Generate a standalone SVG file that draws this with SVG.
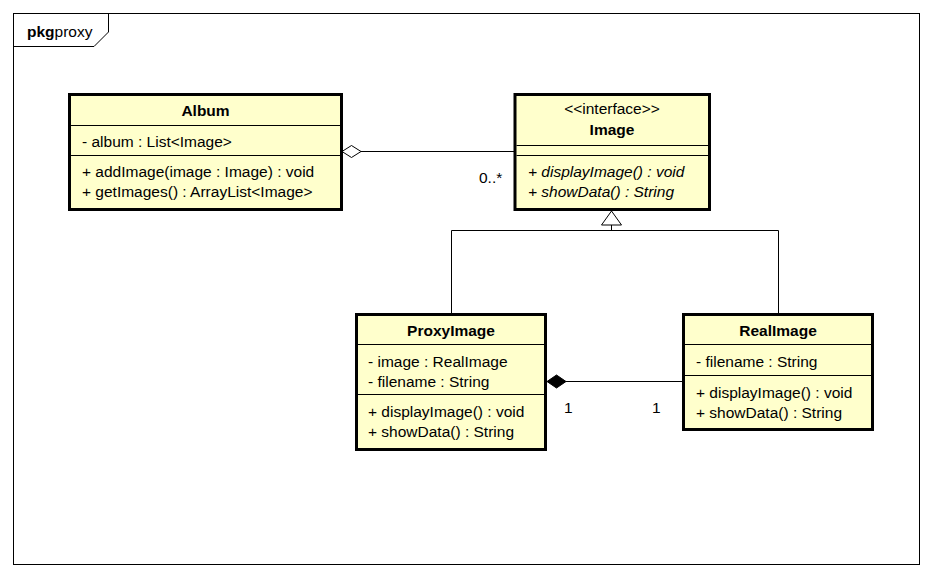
<svg xmlns="http://www.w3.org/2000/svg" width="933" height="578" viewBox="0 0 933 578">
<style>
text{font-family:"Liberation Sans",Arial,sans-serif;font-size:15.5px;fill:#000}
.b{font-weight:bold}
.i{font-style:italic}
.m{text-anchor:middle}
.box{fill:#ffffcc;stroke:#000;stroke-width:3}
.div{stroke:#000;stroke-width:1}
.ln{fill:none;stroke:#000;stroke-width:1}
</style>
<rect width="933" height="578" fill="#fff"/>
<g id="frame">
<rect x="13.5" y="13.5" width="906" height="551" fill="none" stroke="#000" stroke-width="1"/>
<path d="M13.5 46.5 H94 L108.5 32 V13.5" fill="none" stroke="#000" stroke-width="1"/>
<text x="27" y="37" font-size="14.5"><tspan class="b">pkg</tspan>proxy</text>
</g>
<g id="connectors">
<path class="ln" d="M361 151.5 H514"/>
<path d="M342 151.5 L351.5 145.5 L361 151.5 L351.5 157.5 Z" fill="#fff" stroke="#000" stroke-width="1"/>
<text x="479" y="183">0..*</text>
<path class="ln" d="M451.5 313 V230.5 H778.5 V313"/>
<path class="ln" d="M611.5 225 V230.5"/>
<path d="M611.5 211 L621.5 225 L601.5 225 Z" fill="#fff" stroke="#000" stroke-width="1"/>
<path class="ln" d="M566 381.5 H682"/>
<path d="M547 381.5 L556.5 375 L566 381.5 L556.5 388 Z" fill="#000" stroke="#000" stroke-width="1"/>
<text x="564" y="413">1</text>
<text x="652" y="413">1</text>
</g>
<g id="Album">
<rect class="box" x="69.5" y="94.5" width="272" height="115"/>
<path class="div" d="M71 125.5 H340 M71 155.5 H340"/>
<text class="b m" x="205.5" y="116">Album</text>
<text x="82" y="147">- album : List&lt;Image&gt;</text>
<text x="82" y="177">+ addImage(image : Image) : void</text>
<text x="82" y="197">+ getImages() : ArrayList&lt;Image&gt;</text>
</g>
<g id="Image">
<rect class="box" x="515" y="94.5" width="194.5" height="115"/>
<path class="div" d="M516.5 145.5 H708 M516.5 155.5 H708"/>
<text class="m" x="612" y="114">&lt;&lt;interface&gt;&gt;</text>
<text class="b m" x="612" y="135">Image</text>
<text class="i" x="528" y="177">+ displayImage() : void</text>
<text class="i" x="528" y="197">+ showData() : String</text>
</g>
<g id="ProxyImage">
<rect class="box" x="356.5" y="314.5" width="189" height="135"/>
<path class="div" d="M358 344.5 H544 M358 394.5 H544"/>
<text class="b m" x="451" y="336">ProxyImage</text>
<text x="368" y="367">- image : RealImage</text>
<text x="368" y="387">- filename : String</text>
<text x="368" y="417">+ displayImage() : void</text>
<text x="368" y="437">+ showData() : String</text>
</g>
<g id="RealImage">
<rect class="box" x="683.5" y="314.5" width="189" height="115"/>
<path class="div" d="M685 344.5 H871 M685 375.5 H871"/>
<text class="b m" x="778" y="336">RealImage</text>
<text x="696" y="367">- filename : String</text>
<text x="696" y="398">+ displayImage() : void</text>
<text x="696" y="418">+ showData() : String</text>
</g>
</svg>
